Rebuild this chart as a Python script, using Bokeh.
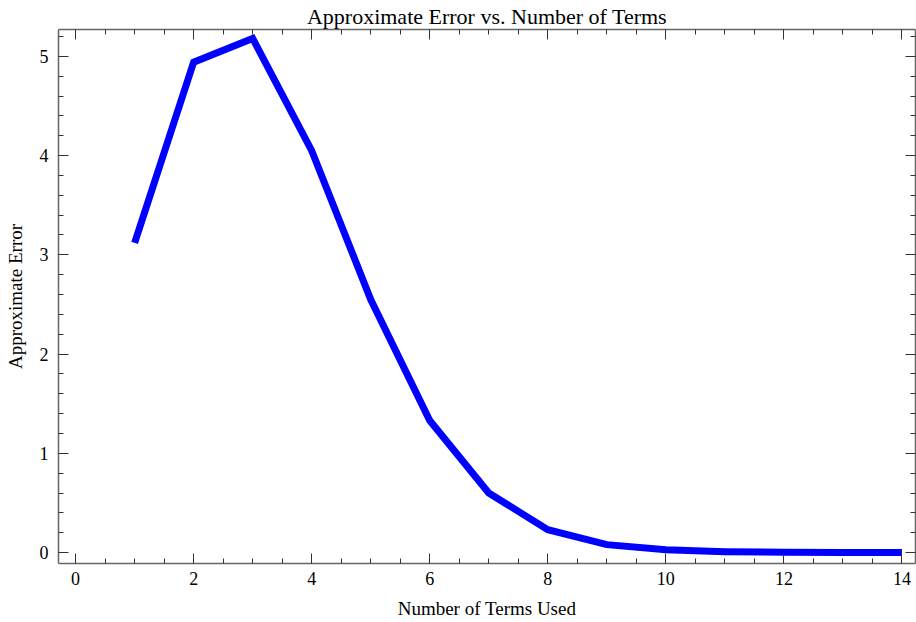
from bokeh.plotting import figure
from bokeh.models import Range1d, SingleIntervalTicker, LinearAxis, CustomLabelingPolicy
from bokeh.embed import file_html
from bokeh.resources import INLINE

terms = [1, 2, 3, 4, 5, 6, 7, 8, 9, 10, 11, 12, 13, 14]
approx_error = [3.12, 4.94, 5.18, 4.05, 2.55, 1.33, 0.60, 0.23, 0.08, 0.028,
                0.009, 0.003, 0.001, 0.0003]

title_text = "Approximate Error vs. Number of Terms"
x_label = "Number of Terms Used"
y_label = "Approximate Error"

FONT = "Liberation Serif"
FRAME = "#666666"
TICK = "#333333"

p = figure(width=916, height=622, output_backend="svg", toolbar_location=None,
           x_range=Range1d(-0.29, 14.23), y_range=Range1d(-0.11, 5.27),
           x_axis_location=None, y_axis_location=None,
           min_border_left=58, min_border_right=1, min_border_top=29, min_border_bottom=59)

p.title.text = title_text
p.title.align = "center"
p.title.text_font = FONT
p.title.text_font_size = "22px"
p.title.text_font_style = "normal"
p.title.text_color = "black"
p.title.offset = 0
p.title.standoff = 1

p.grid.visible = False
p.outline_line_color = None
p.background_fill_color = "white"
p.border_fill_color = "white"

no_labels = CustomLabelingPolicy(code="""
    for (const i of Array.from(indices)) { indices.unset(i) }
    return indices
""")


def style(ax, labels):
    ax.axis_line_color = FRAME
    ax.axis_line_width = 1.5
    ax.major_tick_line_color = TICK
    ax.minor_tick_line_color = TICK
    ax.major_tick_in = 10
    ax.major_tick_out = 0
    ax.minor_tick_in = 5
    ax.minor_tick_out = 0
    ax.major_label_text_font = FONT
    ax.major_label_text_color = "black"
    ax.major_label_text_font_size = "18px"
    ax.axis_label_text_font = FONT
    ax.axis_label_text_font_style = "normal"
    ax.axis_label_text_color = "black"
    ax.axis_label_text_font_size = "19px"
    if not labels:
        ax.major_label_policy = no_labels
        ax.major_label_text_font_size = "0px"
        ax.major_label_standoff = 0


xt = SingleIntervalTicker(interval=2, num_minor_ticks=4)
yt = SingleIntervalTicker(interval=1, num_minor_ticks=5)

bottom = LinearAxis(ticker=xt, axis_label=x_label)
style(bottom, True)
bottom.major_label_standoff = 8
bottom.axis_label_standoff = 10
left = LinearAxis(ticker=yt, axis_label=y_label)
style(left, True)
left.major_label_standoff = 10
left.axis_label_standoff = 11
top = LinearAxis(ticker=xt)
style(top, False)
right = LinearAxis(ticker=yt)
style(right, False)

p.add_layout(bottom, "below")
p.add_layout(left, "left")
p.add_layout(top, "above")
p.add_layout(right, "right")

p.line(terms, approx_error, line_width=7, line_color="#0000ff",
       line_join="miter", line_cap="butt")

open("out.html", "w").write(file_html(p, INLINE))
